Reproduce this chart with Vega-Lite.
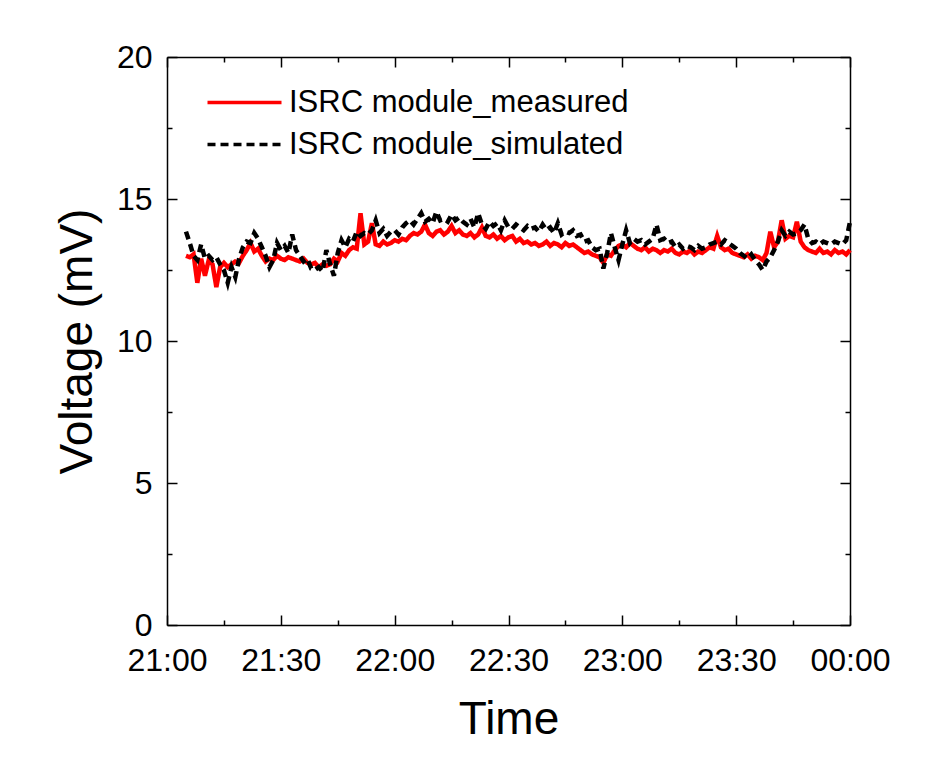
{
"$schema": "https://vega.github.io/schema/vega-lite/v6.json",
"width": 683, "height": 568,
"autosize": {"type": "none"},
"padding": {"left": 167, "top": 57, "right": 88, "bottom": 157},
"background": "white",
"config": {"view": {"stroke": null}, "font": "Liberation Sans",
 "axis": {"domainColor": "black", "tickColor": "black", "labelColor": "black", "titleColor": "black", "grid": false, "domainWidth": 1.5, "tickWidth": 1.5, "labelFont": "Liberation Sans", "titleFont": "Liberation Sans", "titleFontWeight": "normal", "labelFlush": false, "labelOverlap": false}},
"datasets": {
"measured": [
{"time":"2020-01-01 21:05","voltage":13.0},{"time":"2020-01-01 21:06","voltage":12.95},{"time":"2020-01-01 21:07","voltage":13.05},{"time":"2020-01-01 21:08","voltage":12.05},{"time":"2020-01-01 21:09","voltage":12.9},{"time":"2020-01-01 21:10","voltage":12.3},{"time":"2020-01-01 21:11","voltage":12.85},{"time":"2020-01-01 21:12","voltage":12.7},{"time":"2020-01-01 21:13","voltage":11.9},{"time":"2020-01-01 21:14","voltage":12.6},{"time":"2020-01-01 21:15","voltage":12.75},{"time":"2020-01-01 21:16","voltage":12.6},{"time":"2020-01-01 21:17","voltage":12.7},{"time":"2020-01-01 21:18","voltage":12.8},{"time":"2020-01-01 21:19","voltage":12.75},
{"time":"2020-01-01 21:20","voltage":13.0},{"time":"2020-01-01 21:21","voltage":13.2},{"time":"2020-01-01 21:22","voltage":13.45},{"time":"2020-01-01 21:23","voltage":13.15},{"time":"2020-01-01 21:24","voltage":13.25},{"time":"2020-01-01 21:25","voltage":13.0},{"time":"2020-01-01 21:26","voltage":12.8},{"time":"2020-01-01 21:27","voltage":12.9},{"time":"2020-01-01 21:28","voltage":12.85},{"time":"2020-01-01 21:29","voltage":13.0},
{"time":"2020-01-01 21:30","voltage":12.9},{"time":"2020-01-01 21:31","voltage":12.85},{"time":"2020-01-01 21:32","voltage":12.95},{"time":"2020-01-01 21:33","voltage":12.9},{"time":"2020-01-01 21:34","voltage":12.85},{"time":"2020-01-01 21:35","voltage":12.8},{"time":"2020-01-01 21:36","voltage":12.9},{"time":"2020-01-01 21:37","voltage":12.75},{"time":"2020-01-01 21:38","voltage":12.7},{"time":"2020-01-01 21:39","voltage":12.75},
{"time":"2020-01-01 21:40","voltage":12.6},{"time":"2020-01-01 21:41","voltage":12.7},{"time":"2020-01-01 21:42","voltage":12.65},{"time":"2020-01-01 21:43","voltage":12.7},{"time":"2020-01-01 21:44","voltage":12.9},{"time":"2020-01-01 21:45","voltage":12.8},{"time":"2020-01-01 21:46","voltage":13.1},{"time":"2020-01-01 21:47","voltage":13.0},{"time":"2020-01-01 21:48","voltage":13.2},{"time":"2020-01-01 21:49","voltage":13.3},
{"time":"2020-01-01 21:50","voltage":13.25},{"time":"2020-01-01 21:51","voltage":14.5},{"time":"2020-01-01 21:52","voltage":13.4},{"time":"2020-01-01 21:53","voltage":13.5},{"time":"2020-01-01 21:54","voltage":14.15},{"time":"2020-01-01 21:55","voltage":13.4},{"time":"2020-01-01 21:56","voltage":13.35},{"time":"2020-01-01 21:57","voltage":13.5},{"time":"2020-01-01 21:58","voltage":13.4},{"time":"2020-01-01 21:59","voltage":13.45},
{"time":"2020-01-01 22:00","voltage":13.55},{"time":"2020-01-01 22:01","voltage":13.5},{"time":"2020-01-01 22:02","voltage":13.6},{"time":"2020-01-01 22:03","voltage":13.55},{"time":"2020-01-01 22:04","voltage":13.7},{"time":"2020-01-01 22:05","voltage":13.8},{"time":"2020-01-01 22:06","voltage":13.75},{"time":"2020-01-01 22:07","voltage":13.85},{"time":"2020-01-01 22:08","voltage":14.1},{"time":"2020-01-01 22:09","voltage":13.8},
{"time":"2020-01-01 22:10","voltage":13.7},{"time":"2020-01-01 22:11","voltage":13.85},{"time":"2020-01-01 22:12","voltage":13.9},{"time":"2020-01-01 22:13","voltage":13.75},{"time":"2020-01-01 22:14","voltage":13.85},{"time":"2020-01-01 22:15","voltage":14.05},{"time":"2020-01-01 22:16","voltage":13.8},{"time":"2020-01-01 22:17","voltage":13.9},{"time":"2020-01-01 22:18","voltage":13.75},{"time":"2020-01-01 22:19","voltage":13.7},
{"time":"2020-01-01 22:20","voltage":13.8},{"time":"2020-01-01 22:21","voltage":13.65},{"time":"2020-01-01 22:22","voltage":13.75},{"time":"2020-01-01 22:23","voltage":14.0},{"time":"2020-01-01 22:24","voltage":13.7},{"time":"2020-01-01 22:25","voltage":13.65},{"time":"2020-01-01 22:26","voltage":13.75},{"time":"2020-01-01 22:27","voltage":13.6},{"time":"2020-01-01 22:28","voltage":13.7},{"time":"2020-01-01 22:29","voltage":13.55},
{"time":"2020-01-01 22:30","voltage":13.65},{"time":"2020-01-01 22:31","voltage":13.7},{"time":"2020-01-01 22:32","voltage":13.5},{"time":"2020-01-01 22:33","voltage":13.6},{"time":"2020-01-01 22:34","voltage":13.45},{"time":"2020-01-01 22:35","voltage":13.5},{"time":"2020-01-01 22:36","voltage":13.4},{"time":"2020-01-01 22:37","voltage":13.45},{"time":"2020-01-01 22:38","voltage":13.35},{"time":"2020-01-01 22:39","voltage":13.4},
{"time":"2020-01-01 22:40","voltage":13.5},{"time":"2020-01-01 22:41","voltage":13.35},{"time":"2020-01-01 22:42","voltage":13.45},{"time":"2020-01-01 22:43","voltage":13.4},{"time":"2020-01-01 22:44","voltage":13.3},{"time":"2020-01-01 22:45","voltage":13.45},{"time":"2020-01-01 22:46","voltage":13.35},{"time":"2020-01-01 22:47","voltage":13.4},{"time":"2020-01-01 22:48","voltage":13.3},{"time":"2020-01-01 22:49","voltage":13.2},
{"time":"2020-01-01 22:50","voltage":13.1},{"time":"2020-01-01 22:51","voltage":13.15},{"time":"2020-01-01 22:52","voltage":13.05},{"time":"2020-01-01 22:53","voltage":13.0},{"time":"2020-01-01 22:54","voltage":12.95},{"time":"2020-01-01 22:55","voltage":12.75},{"time":"2020-01-01 22:56","voltage":13.05},{"time":"2020-01-01 22:57","voltage":13.0},{"time":"2020-01-01 22:58","voltage":13.2},{"time":"2020-01-01 22:59","voltage":13.35},
{"time":"2020-01-01 23:00","voltage":13.4},{"time":"2020-01-01 23:01","voltage":13.3},{"time":"2020-01-01 23:02","voltage":13.45},{"time":"2020-01-01 23:03","voltage":13.35},{"time":"2020-01-01 23:04","voltage":13.25},{"time":"2020-01-01 23:05","voltage":13.2},{"time":"2020-01-01 23:06","voltage":13.3},{"time":"2020-01-01 23:07","voltage":13.15},{"time":"2020-01-01 23:08","voltage":13.25},{"time":"2020-01-01 23:09","voltage":13.2},
{"time":"2020-01-01 23:10","voltage":13.1},{"time":"2020-01-01 23:11","voltage":13.2},{"time":"2020-01-01 23:12","voltage":13.15},{"time":"2020-01-01 23:13","voltage":13.25},{"time":"2020-01-01 23:14","voltage":13.1},{"time":"2020-01-01 23:15","voltage":13.05},{"time":"2020-01-01 23:16","voltage":13.15},{"time":"2020-01-01 23:17","voltage":13.1},{"time":"2020-01-01 23:18","voltage":13.2},{"time":"2020-01-01 23:19","voltage":13.05},
{"time":"2020-01-01 23:20","voltage":13.15},{"time":"2020-01-01 23:21","voltage":13.1},{"time":"2020-01-01 23:22","voltage":13.2},{"time":"2020-01-01 23:23","voltage":13.3},{"time":"2020-01-01 23:24","voltage":13.25},{"time":"2020-01-01 23:25","voltage":13.7},{"time":"2020-01-01 23:26","voltage":13.3},{"time":"2020-01-01 23:27","voltage":13.2},{"time":"2020-01-01 23:28","voltage":13.25},{"time":"2020-01-01 23:29","voltage":13.1},
{"time":"2020-01-01 23:30","voltage":13.05},{"time":"2020-01-01 23:31","voltage":13.0},{"time":"2020-01-01 23:32","voltage":12.95},{"time":"2020-01-01 23:33","voltage":13.05},{"time":"2020-01-01 23:34","voltage":12.9},{"time":"2020-01-01 23:35","voltage":13.0},{"time":"2020-01-01 23:36","voltage":12.95},{"time":"2020-01-01 23:37","voltage":12.85},{"time":"2020-01-01 23:38","voltage":13.1},{"time":"2020-01-01 23:39","voltage":13.85},
{"time":"2020-01-01 23:40","voltage":13.3},{"time":"2020-01-01 23:41","voltage":13.5},{"time":"2020-01-01 23:42","voltage":14.25},{"time":"2020-01-01 23:43","voltage":13.6},{"time":"2020-01-01 23:44","voltage":13.7},{"time":"2020-01-01 23:45","voltage":13.65},{"time":"2020-01-01 23:46","voltage":14.2},{"time":"2020-01-01 23:47","voltage":13.5},{"time":"2020-01-01 23:48","voltage":13.3},{"time":"2020-01-01 23:49","voltage":13.2},
{"time":"2020-01-01 23:50","voltage":13.15},{"time":"2020-01-01 23:51","voltage":13.1},{"time":"2020-01-01 23:52","voltage":13.25},{"time":"2020-01-01 23:53","voltage":13.1},{"time":"2020-01-01 23:54","voltage":13.15},{"time":"2020-01-01 23:55","voltage":13.05},{"time":"2020-01-01 23:56","voltage":13.2},{"time":"2020-01-01 23:57","voltage":13.1},{"time":"2020-01-01 23:58","voltage":13.15},{"time":"2020-01-01 23:59","voltage":13.05},{"time":"2020-01-02 00:00","voltage":13.2}
],
"simulated": [
{"time":"2020-01-01 21:05","voltage":13.85},{"time":"2020-01-01 21:06","voltage":13.45},{"time":"2020-01-01 21:07","voltage":13.0},{"time":"2020-01-01 21:08","voltage":12.85},{"time":"2020-01-01 21:09","voltage":13.4},{"time":"2020-01-01 21:10","voltage":12.9},{"time":"2020-01-01 21:11","voltage":13.0},{"time":"2020-01-01 21:12","voltage":12.85},{"time":"2020-01-01 21:13","voltage":12.95},{"time":"2020-01-01 21:14","voltage":12.7},{"time":"2020-01-01 21:15","voltage":12.5},{"time":"2020-01-01 21:16","voltage":12.05},{"time":"2020-01-01 21:17","voltage":12.6},{"time":"2020-01-01 21:18","voltage":12.25},{"time":"2020-01-01 21:19","voltage":12.9},
{"time":"2020-01-01 21:20","voltage":13.3},{"time":"2020-01-01 21:21","voltage":13.5},{"time":"2020-01-01 21:22","voltage":13.45},{"time":"2020-01-01 21:23","voltage":13.8},{"time":"2020-01-01 21:24","voltage":13.6},{"time":"2020-01-01 21:25","voltage":13.3},{"time":"2020-01-01 21:26","voltage":13.0},{"time":"2020-01-01 21:27","voltage":12.6},{"time":"2020-01-01 21:28","voltage":12.85},{"time":"2020-01-01 21:29","voltage":13.45},
{"time":"2020-01-01 21:30","voltage":13.2},{"time":"2020-01-01 21:31","voltage":13.35},{"time":"2020-01-01 21:32","voltage":13.1},{"time":"2020-01-01 21:33","voltage":13.75},{"time":"2020-01-01 21:34","voltage":13.2},{"time":"2020-01-01 21:35","voltage":13.0},{"time":"2020-01-01 21:36","voltage":12.8},{"time":"2020-01-01 21:37","voltage":12.9},{"time":"2020-01-01 21:38","voltage":12.55},{"time":"2020-01-01 21:39","voltage":12.5},
{"time":"2020-01-01 21:40","voltage":12.6},{"time":"2020-01-01 21:41","voltage":12.45},{"time":"2020-01-01 21:42","voltage":13.2},{"time":"2020-01-01 21:43","voltage":12.7},{"time":"2020-01-01 21:44","voltage":12.3},{"time":"2020-01-01 21:45","voltage":13.1},{"time":"2020-01-01 21:46","voltage":13.55},{"time":"2020-01-01 21:47","voltage":13.3},{"time":"2020-01-01 21:48","voltage":13.6},{"time":"2020-01-01 21:49","voltage":13.5},
{"time":"2020-01-01 21:50","voltage":13.85},{"time":"2020-01-01 21:51","voltage":13.7},{"time":"2020-01-01 21:52","voltage":13.8},{"time":"2020-01-01 21:53","voltage":13.75},{"time":"2020-01-01 21:54","voltage":13.9},{"time":"2020-01-01 21:55","voltage":14.25},{"time":"2020-01-01 21:56","voltage":13.8},{"time":"2020-01-01 21:57","voltage":13.95},{"time":"2020-01-01 21:58","voltage":13.7},{"time":"2020-01-01 21:59","voltage":13.85},
{"time":"2020-01-01 22:00","voltage":13.9},{"time":"2020-01-01 22:01","voltage":13.75},{"time":"2020-01-01 22:02","voltage":14.0},{"time":"2020-01-01 22:03","voltage":14.15},{"time":"2020-01-01 22:04","voltage":14.25},{"time":"2020-01-01 22:05","voltage":14.1},{"time":"2020-01-01 22:06","voltage":14.3},{"time":"2020-01-01 22:07","voltage":14.5},{"time":"2020-01-01 22:08","voltage":14.2},{"time":"2020-01-01 22:09","voltage":14.3},
{"time":"2020-01-01 22:10","voltage":14.15},{"time":"2020-01-01 22:11","voltage":14.55},{"time":"2020-01-01 22:12","voltage":14.25},{"time":"2020-01-01 22:13","voltage":14.3},{"time":"2020-01-01 22:14","voltage":14.2},{"time":"2020-01-01 22:15","voltage":14.45},{"time":"2020-01-01 22:16","voltage":14.25},{"time":"2020-01-01 22:17","voltage":14.35},{"time":"2020-01-01 22:18","voltage":14.2},{"time":"2020-01-01 22:19","voltage":14.1},
{"time":"2020-01-01 22:20","voltage":14.3},{"time":"2020-01-01 22:21","voltage":14.0},{"time":"2020-01-01 22:22","voltage":14.5},{"time":"2020-01-01 22:23","voltage":14.1},{"time":"2020-01-01 22:24","voltage":13.95},{"time":"2020-01-01 22:25","voltage":14.2},{"time":"2020-01-01 22:26","voltage":14.05},{"time":"2020-01-01 22:27","voltage":14.15},{"time":"2020-01-01 22:28","voltage":13.9},{"time":"2020-01-01 22:29","voltage":14.25},
{"time":"2020-01-01 22:30","voltage":14.0},{"time":"2020-01-01 22:31","voltage":13.95},{"time":"2020-01-01 22:32","voltage":14.1},{"time":"2020-01-01 22:33","voltage":14.0},{"time":"2020-01-01 22:34","voltage":13.9},{"time":"2020-01-01 22:35","voltage":14.05},{"time":"2020-01-01 22:36","voltage":13.95},{"time":"2020-01-01 22:37","voltage":14.0},{"time":"2020-01-01 22:38","voltage":13.85},{"time":"2020-01-01 22:39","voltage":14.1},
{"time":"2020-01-01 22:40","voltage":13.9},{"time":"2020-01-01 22:41","voltage":14.0},{"time":"2020-01-01 22:42","voltage":13.8},{"time":"2020-01-01 22:43","voltage":14.15},{"time":"2020-01-01 22:44","voltage":13.75},{"time":"2020-01-01 22:45","voltage":13.85},{"time":"2020-01-01 22:46","voltage":13.8},{"time":"2020-01-01 22:47","voltage":13.9},{"time":"2020-01-01 22:48","voltage":13.7},{"time":"2020-01-01 22:49","voltage":13.75},
{"time":"2020-01-01 22:50","voltage":13.5},{"time":"2020-01-01 22:51","voltage":13.55},{"time":"2020-01-01 22:52","voltage":13.3},{"time":"2020-01-01 22:53","voltage":13.2},{"time":"2020-01-01 22:54","voltage":13.25},{"time":"2020-01-01 22:55","voltage":12.55},{"time":"2020-01-01 22:56","voltage":13.1},{"time":"2020-01-01 22:57","voltage":13.8},{"time":"2020-01-01 22:58","voltage":13.3},{"time":"2020-01-01 22:59","voltage":12.85},
{"time":"2020-01-01 23:00","voltage":13.4},{"time":"2020-01-01 23:01","voltage":13.9},{"time":"2020-01-01 23:02","voltage":13.45},{"time":"2020-01-01 23:03","voltage":13.6},{"time":"2020-01-01 23:04","voltage":13.5},{"time":"2020-01-01 23:05","voltage":13.55},{"time":"2020-01-01 23:06","voltage":13.4},{"time":"2020-01-01 23:07","voltage":13.5},{"time":"2020-01-01 23:08","voltage":13.6},{"time":"2020-01-01 23:09","voltage":14.1},
{"time":"2020-01-01 23:10","voltage":13.55},{"time":"2020-01-01 23:11","voltage":13.6},{"time":"2020-01-01 23:12","voltage":13.45},{"time":"2020-01-01 23:13","voltage":13.5},{"time":"2020-01-01 23:14","voltage":13.3},{"time":"2020-01-01 23:15","voltage":13.4},{"time":"2020-01-01 23:16","voltage":13.25},{"time":"2020-01-01 23:17","voltage":13.35},{"time":"2020-01-01 23:18","voltage":13.3},{"time":"2020-01-01 23:19","voltage":13.2},
{"time":"2020-01-01 23:20","voltage":13.35},{"time":"2020-01-01 23:21","voltage":13.25},{"time":"2020-01-01 23:22","voltage":13.3},{"time":"2020-01-01 23:23","voltage":13.4},{"time":"2020-01-01 23:24","voltage":13.45},{"time":"2020-01-01 23:25","voltage":13.5},{"time":"2020-01-01 23:26","voltage":13.4},{"time":"2020-01-01 23:27","voltage":13.55},{"time":"2020-01-01 23:28","voltage":13.45},{"time":"2020-01-01 23:29","voltage":13.35},
{"time":"2020-01-01 23:30","voltage":13.25},{"time":"2020-01-01 23:31","voltage":13.1},{"time":"2020-01-01 23:32","voltage":13.0},{"time":"2020-01-01 23:33","voltage":12.9},{"time":"2020-01-01 23:34","voltage":13.05},{"time":"2020-01-01 23:35","voltage":12.85},{"time":"2020-01-01 23:36","voltage":12.7},{"time":"2020-01-01 23:37","voltage":12.5},{"time":"2020-01-01 23:38","voltage":12.8},{"time":"2020-01-01 23:39","voltage":12.95},
{"time":"2020-01-01 23:40","voltage":13.2},{"time":"2020-01-01 23:41","voltage":13.5},{"time":"2020-01-01 23:42","voltage":13.9},{"time":"2020-01-01 23:43","voltage":13.7},{"time":"2020-01-01 23:44","voltage":13.85},{"time":"2020-01-01 23:45","voltage":13.75},{"time":"2020-01-01 23:46","voltage":13.8},{"time":"2020-01-01 23:47","voltage":13.9},{"time":"2020-01-01 23:48","voltage":14.1},{"time":"2020-01-01 23:49","voltage":13.6},
{"time":"2020-01-01 23:50","voltage":13.45},{"time":"2020-01-01 23:51","voltage":13.5},{"time":"2020-01-01 23:52","voltage":13.4},{"time":"2020-01-01 23:53","voltage":13.5},{"time":"2020-01-01 23:54","voltage":13.45},{"time":"2020-01-01 23:55","voltage":13.4},{"time":"2020-01-01 23:56","voltage":13.5},{"time":"2020-01-01 23:57","voltage":13.45},{"time":"2020-01-01 23:58","voltage":13.4},{"time":"2020-01-01 23:59","voltage":13.55},{"time":"2020-01-02 00:00","voltage":14.2}
]
},
"resolve": {"axis": {"x": "independent", "y": "independent"}},
"layer": [
{
 "data": {"name": "measured"},
 "transform": [{"calculate": "'measured'", "as": "series"}],
 "mark": {"type": "line", "strokeWidth": 4.5},
 "encoding": {
  "x": {"field": "time", "type": "temporal",
   "scale": {"domain": [{"year": 2020, "month": 1, "date": 1, "hours": 21}, {"year": 2020, "month": 1, "date": 2, "hours": 0}]},
   "axis": {"orient": "bottom", "format": "%H:%M", "tickSize": -10, "labelFontSize": 32, "labelPadding": 30, "title": "Time", "titleFontSize": 46, "titlePadding": 21,
    "values": [{"year": 2020, "month": 1, "date": 1, "hours": 21, "minutes": 0}, {"year": 2020, "month": 1, "date": 1, "hours": 21, "minutes": 30}, {"year": 2020, "month": 1, "date": 1, "hours": 22, "minutes": 0}, {"year": 2020, "month": 1, "date": 1, "hours": 22, "minutes": 30}, {"year": 2020, "month": 1, "date": 1, "hours": 23, "minutes": 0}, {"year": 2020, "month": 1, "date": 1, "hours": 23, "minutes": 30}, {"year": 2020, "month": 1, "date": 2, "hours": 0, "minutes": 0}]}},
  "y": {"field": "voltage", "type": "quantitative", "scale": {"domain": [0, 20]},
   "axis": {"orient": "left", "values": [0, 5, 10, 15, 20], "tickSize": -10, "labelFontSize": 32, "labelPadding": 25, "title": "Voltage (mV)", "titleFontSize": 46, "titlePadding": 15}},
  "color": {"field": "series", "type": "nominal", "scale": {"domain": ["measured", "simulated"], "range": ["#ff0000", "#000000"]},
   "legend": {"orient": "none", "legendX": 62, "legendY": 30, "title": null, "labelExpr": "'ISRC module_' + datum.label", "labelFontSize": 31, "labelFont": "Liberation Sans", "labelColor": "black", "symbolType": "M-3.7,0H3.7", "symbolSize": 400, "symbolStrokeWidth": 3.5, "labelOffset": 29, "rowPadding": 10, "padding": 0, "labelLimit": 600}},
  "strokeDash": {"field": "series", "type": "nominal", "scale": {"domain": ["measured", "simulated"], "range": [[1, 0], [8, 5]]},
   "legend": {"orient": "none", "legendX": 62, "legendY": 30, "title": null, "labelExpr": "'ISRC module_' + datum.label", "labelFontSize": 31, "labelFont": "Liberation Sans", "labelColor": "black", "symbolType": "M-3.7,0H3.7", "symbolSize": 400, "symbolStrokeWidth": 3.5, "labelOffset": 29, "rowPadding": 10, "padding": 0, "labelLimit": 600}}
 }
},
{
 "data": {"name": "simulated"},
 "transform": [{"calculate": "'simulated'", "as": "series"}],
 "mark": {"type": "line", "strokeWidth": 4.5},
 "encoding": {
  "x": {"field": "time", "type": "temporal",
   "axis": {"orient": "bottom", "labels": false, "domain": false, "tickSize": -5, "title": null,
    "values": [{"year": 2020, "month": 1, "date": 1, "hours": 21, "minutes": 15}, {"year": 2020, "month": 1, "date": 1, "hours": 21, "minutes": 45}, {"year": 2020, "month": 1, "date": 1, "hours": 22, "minutes": 15}, {"year": 2020, "month": 1, "date": 1, "hours": 22, "minutes": 45}, {"year": 2020, "month": 1, "date": 1, "hours": 23, "minutes": 15}, {"year": 2020, "month": 1, "date": 1, "hours": 23, "minutes": 45}]}},
  "y": {"field": "voltage", "type": "quantitative",
   "axis": {"orient": "left", "labels": false, "domain": false, "tickSize": -5, "title": null, "values": [2.5, 7.5, 12.5, 17.5]}},
  "color": {"field": "series", "type": "nominal"},
  "strokeDash": {"field": "series", "type": "nominal"}
 }
},
{
 "data": {"name": "measured"},
 "mark": {"type": "point", "opacity": 0},
 "encoding": {
  "x": {"field": "time", "type": "temporal",
   "axis": {"orient": "top", "labels": false, "domain": true, "tickSize": -10, "title": null,
    "values": [{"year": 2020, "month": 1, "date": 1, "hours": 21, "minutes": 0}, {"year": 2020, "month": 1, "date": 1, "hours": 21, "minutes": 30}, {"year": 2020, "month": 1, "date": 1, "hours": 22, "minutes": 0}, {"year": 2020, "month": 1, "date": 1, "hours": 22, "minutes": 30}, {"year": 2020, "month": 1, "date": 1, "hours": 23, "minutes": 0}, {"year": 2020, "month": 1, "date": 1, "hours": 23, "minutes": 30}, {"year": 2020, "month": 1, "date": 2, "hours": 0, "minutes": 0}]}},
  "y": {"field": "voltage", "type": "quantitative",
   "axis": {"orient": "right", "labels": false, "domain": true, "tickSize": -10, "title": null, "values": [0, 5, 10, 15, 20]}}
 }
},
{
 "data": {"name": "measured"},
 "mark": {"type": "point", "opacity": 0},
 "encoding": {
  "x": {"field": "time", "type": "temporal",
   "axis": {"orient": "top", "labels": false, "domain": false, "tickSize": -5, "title": null,
    "values": [{"year": 2020, "month": 1, "date": 1, "hours": 21, "minutes": 15}, {"year": 2020, "month": 1, "date": 1, "hours": 21, "minutes": 45}, {"year": 2020, "month": 1, "date": 1, "hours": 22, "minutes": 15}, {"year": 2020, "month": 1, "date": 1, "hours": 22, "minutes": 45}, {"year": 2020, "month": 1, "date": 1, "hours": 23, "minutes": 15}, {"year": 2020, "month": 1, "date": 1, "hours": 23, "minutes": 45}]}},
  "y": {"field": "voltage", "type": "quantitative",
   "axis": {"orient": "right", "labels": false, "domain": false, "tickSize": -5, "title": null, "values": [2.5, 7.5, 12.5, 17.5]}}
 }
}
]
}
